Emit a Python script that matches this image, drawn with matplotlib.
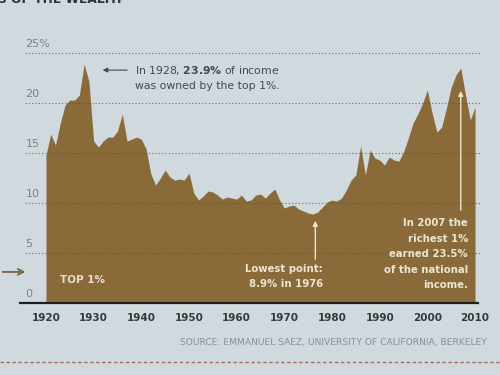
import matplotlib
matplotlib.use('Agg')
import matplotlib.pyplot as plt
from matplotlib.lines import Line2D
from matplotlib.transforms import blended_transform_factory

# top 1% income share (incl. capital gains)
years = list(range(1920, 2011))
share = [
    14.8, 16.9, 15.8, 18.0, 19.8, 20.3, 20.3, 20.8, 23.9, 22.2,  # 1920s
    16.2, 15.6, 16.2, 16.6, 16.6, 17.2, 18.9, 16.2, 16.4, 16.6,  # 1930s
    16.4, 15.4, 12.9, 11.8, 12.5, 13.3, 12.6, 12.3, 12.4, 12.3,  # 1940s
    13.0, 11.0, 10.3, 10.7, 11.2, 11.1, 10.8, 10.4, 10.6, 10.5,  # 1950s
    10.4, 10.8, 10.2, 10.3, 10.8, 10.9, 10.5, 11.0, 11.4, 10.3,  # 1960s
    9.5, 9.7, 9.8, 9.4, 9.2, 9.0, 8.9, 9.1, 9.6, 10.1,          # 1970s
    10.3, 10.2, 10.5, 11.3, 12.3, 12.8, 15.7, 12.8, 15.3, 14.5,  # 1980s
    14.3, 13.8, 14.6, 14.3, 14.2, 15.1, 16.5, 18.0, 18.9, 20.0,  # 1990s
    21.3, 19.0, 17.1, 17.6, 19.5, 21.6, 22.8, 23.5, 20.8, 18.3,  # 2000s
    19.6,
]
ygrid = [5, 10, 15, 20, 25]
ylabels = ['0', '5', '10', '15', '20', '25%']
xticks = list(range(1920, 2011, 10))

bg = '#d0d9de'
brown = '#8b6a3a'
cream = '#ece5d3'

fig = plt.figure(figsize=(5, 3.75), dpi=100, facecolor=bg)
ax = fig.add_axes([0.04, 0.192, 0.92, 0.701])
ax.set_facecolor('none')
for s in ax.spines.values():
    s.set_visible(False)

ax.fill_between(years, share, 0, color=brown, linewidth=0, zorder=2)

for v in ygrid:
    ax.axhline(v, xmin=0.01, xmax=1.0, ls=(0, (1, 2)), lw=0.8,
               color='#4a4a48', alpha=0.75, zorder=3)
ax.axhline(0, xmin=0, xmax=0.996, color='#1e1e1e', lw=1.6, zorder=4,
           clip_on=False)

ax.set_xlim(1914.55, 2011.04)
ax.set_ylim(0, 26.3)
ax.set_xticks(xticks)
ax.set_yticks([])
ax.tick_params(axis='x', length=0, pad=7, labelsize=7.5, labelcolor='#35393c')
for lb in ax.get_xticklabels():
    lb.set_fontweight('bold')

trans = blended_transform_factory(ax.transAxes, ax.transData)
for v, lb in zip([0] + ygrid, ylabels):
    ax.annotate(lb, xy=(0.012, v), xycoords=trans, xytext=(0, 3),
                textcoords='offset points', va='bottom', ha='left',
                fontsize=8, color='#7b8287')

# 1928 annotation
ax.annotate('', xy=(1931.3, 23.3), xytext=(1937.6, 23.3),
            arrowprops=dict(arrowstyle='-|>', color='#45494c', lw=0.8,
                            mutation_scale=7))
ax.text(1938.6, 23.3, r'In 1928, $\mathbf{23.9\%}$ of income',
        va='center', ha='left', fontsize=7.8, color='#45494c')
ax.text(1938.6, 21.7, 'was owned by the top 1%.',
        va='center', ha='left', fontsize=7.8, color='#45494c')

# lowest point
ax.annotate('', xy=(1976.5, 8.5), xytext=(1976.5, 4.1),
            arrowprops=dict(arrowstyle='-|>', color=cream, lw=1,
                            mutation_scale=7))
ax.text(1978.1, 3.4, 'Lowest point:', ha='right', va='center',
        fontsize=7.3, fontweight='bold', color=cream)
ax.text(1978.1, 1.9, '8.9% in 1976', ha='right', va='center',
        fontsize=7.3, fontweight='bold', color=cream)

# 2007
ax.annotate('', xy=(2007, 21.5), xytext=(2007, 9.0),
            arrowprops=dict(arrowstyle='-|>', color=cream, lw=1,
                            mutation_scale=7))
lines07 = ['In 2007 the', 'richest 1%', 'earned 23.5%', 'of the national', 'income.']
for i, t in enumerate(lines07):
    ax.text(2008.5, 8.0 - i * 1.55, t, ha='right', va='center',
            fontsize=7.3, fontweight='bold', color=cream)

ax.text(1922.9, 2.3, 'TOP 1%', ha='left', va='center', fontsize=7.5,
        fontweight='bold', color='#e6dfcf')

# arrow coming in from the left
fig.add_artist(plt.annotate('', xy=(28 / 500, 0.275), xytext=(0.0, 0.275),
                            xycoords='figure fraction',
                            arrowprops=dict(arrowstyle='->', color='#7c6a4e',
                                            lw=1.2)))

fig.text(0.974, 0.088, 'SOURCE: EMMANUEL SAEZ, UNIVERSITY OF CALIFORNIA, BERKELEY',
         ha='right', va='center', fontsize=6.6, color='#8a9095',
         family=['Liberation Sans Narrow', 'DejaVu Sans'])

# heading of the page, mostly cut off at the top in the photo
fig.text(-0.004, 1 - 3 / 375, 'S OF THE WEALTH', ha='left', va='baseline',
         fontsize=8.8, fontweight='bold', color='#2e3134')

fig.add_artist(Line2D([0, 1], [0.035, 0.035], transform=fig.transFigure,
                      ls=(0, (2.5, 1.8)), color='#a3705c', lw=1.0))

fig.savefig('out.png', dpi=100, facecolor=bg)
